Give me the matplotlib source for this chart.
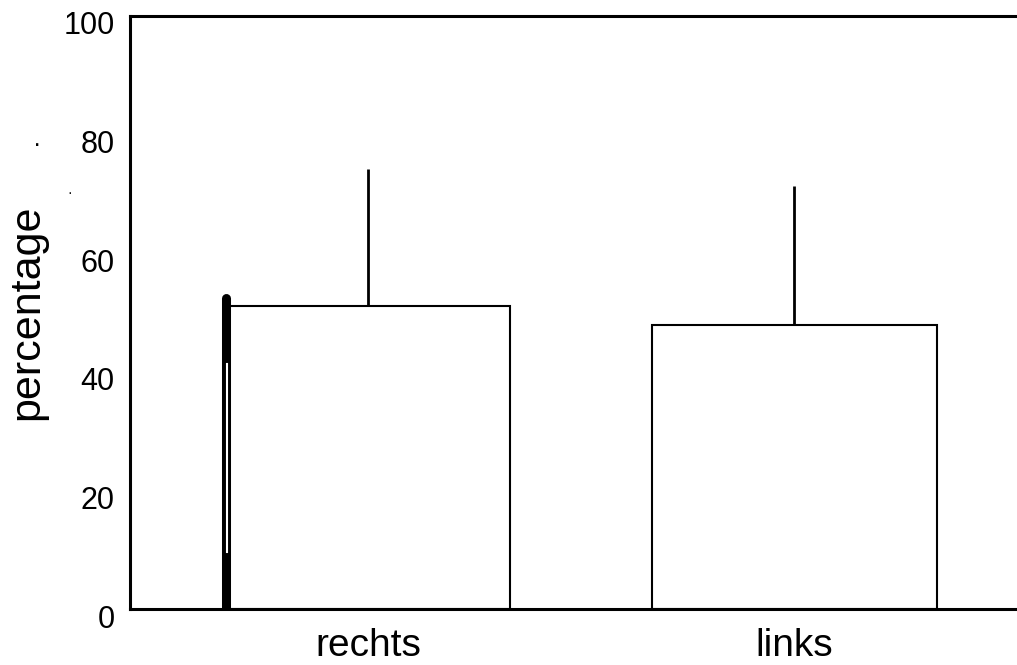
import matplotlib
matplotlib.use("Agg")
import matplotlib.pyplot as plt
from matplotlib.transforms import ScaledTranslation

categories = ["rechts", "links"]
means = [51.0, 47.9]
upper_err = [23.2, 23.4]
yticks = [0, 20, 40, 60, 80, 100]

plt.rcParams['font.family'] = ['Liberation Sans', 'DejaVu Sans']

fig = plt.figure(figsize=(10.17, 6.65), dpi=100)
ax = fig.add_axes([130/1017, 56/665, 905/1017, 593.3/665])

x = list(range(len(categories)))
bars = ax.bar(x, means, width=0.668, color='white', edgecolor='black', linewidth=1.5, zorder=2)
ax.errorbar(x, means, yerr=[[0]*len(means), upper_err], fmt='none', ecolor='black',
            elinewidth=2.0, capsize=0, zorder=1)

# scan artefact along the left edge of the first bar
b0 = bars[0]
x0 = b0.get_x()
h0 = b0.get_height()
ax.plot([x0, x0], [-1.2, h0 + 1.5], color='black', lw=6.5, solid_capstyle='round', zorder=3)
ax.plot([x0 + 0.003, x0 + 0.003], [h0 * 0.19, h0 * 0.81], color='white', lw=1.5, zorder=4)

ax.set_xlim(-0.558, 1.564)
ax.set_ylim(0, 100)
ax.set_yticks(yticks)
ax.set_xticks(x)
ax.set_xticklabels(categories, fontsize=28)
ax.tick_params(axis='y', length=0, pad=11, labelsize=22)
ax.tick_params(axis='x', length=0, pad=14)
ax.set_ylabel('percentage', fontsize=31, labelpad=12)

for lab in ax.get_yticklabels():
    lab.set_transform(lab.get_transform() + ScaledTranslation(0, -7/100, fig.dpi_scale_trans))

for s in ['top', 'bottom', 'left']:
    ax.spines[s].set_linewidth(2.2)
ax.spines['right'].set_visible(False)

# stray scan dots
fig.text(37/1017, 1 - 145/665, '·', fontsize=18, ha='center', va='center')
fig.text(70/1017, 1 - 193/665, '·', fontsize=10, ha='center', va='center')

fig.savefig('out.png', dpi=100)
